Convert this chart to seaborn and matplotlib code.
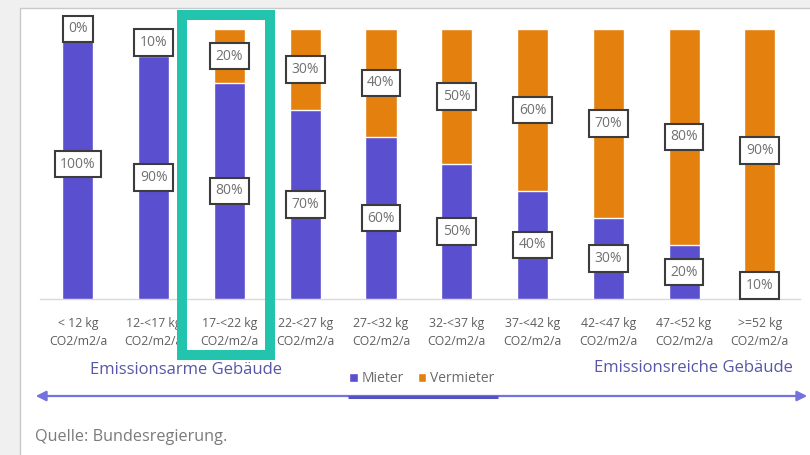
import matplotlib
matplotlib.use("Agg")
import matplotlib.pyplot as plt
import seaborn as sns
import pandas as pd
from matplotlib.patches import Rectangle, Patch, FancyArrowPatch

categories = ["< 12 kg\nCO2/m2/a", "12-<17 kg\nCO2/m2/a", "17-<22 kg\nCO2/m2/a",
              "22-<27 kg\nCO2/m2/a", "27-<32 kg\nCO2/m2/a", "32-<37 kg\nCO2/m2/a",
              "37-<42 kg\nCO2/m2/a", "42-<47 kg\nCO2/m2/a", "47-<52 kg\nCO2/m2/a",
              ">=52 kg\nCO2/m2/a"]
mieter = [100, 90, 80, 70, 60, 50, 40, 30, 20, 10]
vermieter = [0, 10, 20, 30, 40, 50, 60, 70, 80, 90]

C_MIETER = "#5a4fcf"
C_VERM = "#e4800e"
GREY = "#5e5e5e"

sns.set_theme(style="white")
plt.rcParams["font.family"] = ["Open Sans", "DejaVu Sans"]

df = pd.DataFrame({"cat": categories, "Mieter": mieter, "Vermieter": vermieter})
df["total"] = df["Mieter"] + df["Vermieter"]

fig = plt.figure(figsize=(8.1, 4.55), dpi=100, facecolor="#f0f0f0")
# white card
fig.patches.append(Rectangle((20 / 810, -0.1), 1.1, 1.1 - 8 / 455,
                             transform=fig.transFigure, facecolor="white",
                             edgecolor="#c9c9c9", lw=1.0, zorder=-5))

ax = fig.add_axes([40 / 810, 1 - 299 / 455, 760 / 810, 270 / 455])
ax.set_facecolor("none")
ax.set_zorder(1)

sns.barplot(data=df, x="cat", y="total", color=C_VERM, width=0.41, ax=ax,
            saturation=1, zorder=2)
sns.barplot(data=df, x="cat", y="Mieter", color=C_MIETER, width=0.41, ax=ax,
            saturation=1, zorder=3)

ax.set_xlim(-0.5, 9.53)
ax.set_ylim(0, 100)
ax.set_xlabel("")
ax.set_ylabel("")
ax.set_yticks([])
for s in ["top", "left", "right"]:
    ax.spines[s].set_visible(False)
ax.spines["bottom"].set_color("#d9d9d9")
ax.spines["bottom"].set_linewidth(1.0)
ax.tick_params(axis="x", length=0, pad=13, labelsize=8.8, labelcolor=GREY)
for lab in ax.get_xticklabels():
    lab.set_linespacing(1.45)

box = dict(boxstyle="square,pad=0.4", fc="white", ec="#3c3c3c", lw=1.5)
for i, (m, v) in enumerate(zip(mieter, vermieter)):
    ax.text(i, m / 2, f"{m}%", ha="center", va="center", fontsize=10,
            color="#707070", bbox=box, zorder=5, clip_on=False)
    ax.text(i, m + v / 2, f"{v}%", ha="center", va="center", fontsize=10,
            color="#707070", bbox=box, zorder=5, clip_on=False)

# overlay axes for frame and annotations (drawn above the chart)
top = fig.add_axes([0, 0, 1, 1], facecolor="none")
top.set_zorder(5)
top.set_xlim(0, 810)
top.set_ylim(455, 0)
top.axis("off")

top.add_patch(Rectangle((182, 15), 88, 340, fill=False,
                        edgecolor="#22c4ae", lw=7.2, zorder=10))

top.text(186, 370, "Emissionsarme Gebäude", ha="center", va="center",
         fontsize=12, color="#5657a6")
top.text(693, 368, "Emissionsreiche Gebäude", ha="center", va="center",
         fontsize=12, color="#5657a6")

handles = [Patch(facecolor=C_MIETER, label="Mieter"),
           Patch(facecolor=C_VERM, label="Vermieter")]
top.legend(handles=handles, loc="center", bbox_to_anchor=(422 / 810, 1 - 379 / 455),
           bbox_transform=fig.transFigure,
           ncol=2, frameon=False, fontsize=10, labelcolor="#6a6a6a",
           handlelength=0.6, handleheight=0.6, handletextpad=0.3, columnspacing=1.0)

top.add_patch(FancyArrowPatch((33, 396), (810, 396),
                              arrowstyle="<|-|>,head_length=6,head_width=3",
                              color="#7373dc", lw=1.6, mutation_scale=1, zorder=6))
top.plot([348, 498], [396.5, 396.5], color="#5353c4", lw=2.2, zorder=7,
         solid_capstyle="butt")

top.text(35, 437, "Quelle: Bundesregierung.", ha="left", va="center",
         fontsize=11.7, color="#7a7a7a")

fig.savefig("out.png", dpi=100, facecolor=fig.get_facecolor())
